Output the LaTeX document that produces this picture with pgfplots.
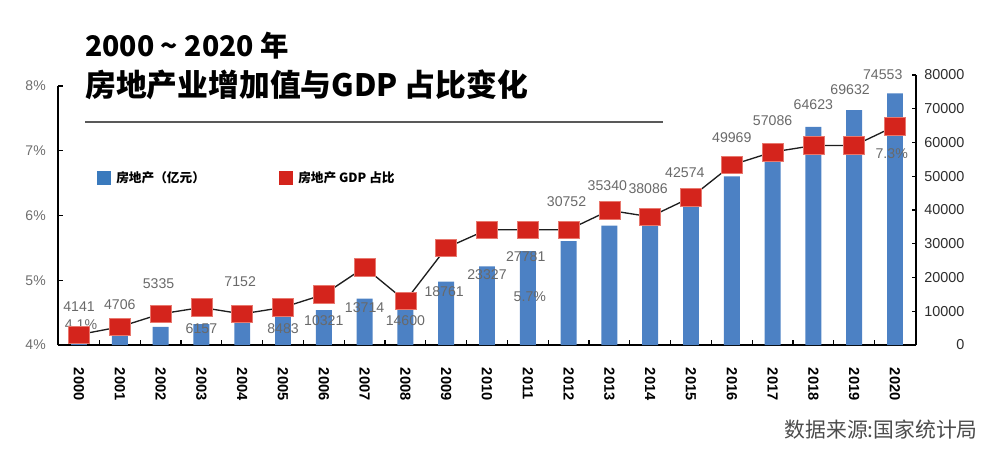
\documentclass[border=0pt]{standalone}
\usepackage{fontspec}
\usepackage{pgfplots}
\pgfplotsset{compat=1.18}
\setmainfont{Liberation Sans}
\newfontfamily\cjk{Noto Sans CJK SC}
\definecolor{barblue}{RGB}{76,129,196}
\definecolor{legblue}{RGB}{58,122,189}
\definecolor{mred}{RGB}{212,36,28}
\definecolor{medge}{RGB}{232,120,110}
\definecolor{labgray}{RGB}{105,105,105}
\definecolor{tickgray}{RGB}{110,110,110}
\definecolor{tickdark}{RGB}{45,45,45}
\definecolor{linedark}{RGB}{30,30,30}
\begin{document}
\begin{tikzpicture}[x=0.75pt,y=-0.75pt]
\useasboundingbox (0,0) rectangle (1000,471);
% ---------------- bars (right axis) ----------------
\begin{axis}[
  at={(43.5pt,-258.75pt)}, anchor=south west,
  scale only axis, width=643.5pt, height=202.5pt,
  xmin=-0.515, xmax=20.515, ymin=0, ymax=80000,
  axis y line*=right, axis x line*=bottom,
  axis line style={-, line width=1pt, black},
  xtick={0,...,20},
  xticklabels={2000,2001,2002,2003,2004,2005,2006,2007,2008,2009,2010,2011,2012,2013,2014,2015,2016,2017,2018,2019,2020},
  minor xtick={-0.5,0.5,...,20.5},
  major x tick style={draw=none},
  tick align=inside,
  major tick length=3.2pt, minor tick length=3.75pt,
  tick style={black, line width=0.8pt},
  xticklabel style={rotate=-90, anchor=west, inner sep=0pt, font=\bfseries\fontsize{11pt}{12pt}\selectfont, text=black},
  xticklabel shift=17pt,
  ytick={0,10000,...,80000},
  scaled y ticks=false,
  yticklabel style={/pgf/number format/1000 sep={}, /pgf/number format/assume math mode=true,
     anchor=east, inner sep=0pt, xshift=36.5pt, font=\fontsize{10.8pt}{12pt}\selectfont, text=tickdark},
  clip=false,
]
\addplot[ybar, bar width=0.39, fill=barblue, draw=none] coordinates {
(0,4141) (1,4706) (2,5335) (3,6157) (4,7152) (5,8483) (6,10321) (7,13714) (8,14600) (9,18761)
(10,23327) (11,27781) (12,30752) (13,35340) (14,38086) (15,42574) (16,49969) (17,57086) (18,64623) (19,69632) (20,74553)};
\end{axis}
% ---------------- share line (left axis) ----------------
\begin{axis}[
  at={(43.5pt,-258.75pt)}, anchor=south west,
  scale only axis, width=643.5pt, height=194.25pt,
  xmin=-0.515, xmax=20.515, ymin=4, ymax=8,
  axis y line*=left, axis x line=none,
  axis line style={-, line width=1pt, black},
  xtick=\empty,
  ytick={4,5,6,7,8},
  yticklabel={\pgfmathprintnumber{\tick}\%},
  tick align=inside, major tick length=3.75pt,
  tick style={black, line width=0.8pt},
  yticklabel style={/pgf/number format/assume math mode=true, anchor=east, inner sep=0pt, xshift=-9pt,
     font=\fontsize{10.5pt}{12pt}\selectfont, text=tickgray},
  clip=false,
]
\addplot[line width=1pt, color=linedark, mark=square*, mark size=6.6pt,
  mark options={fill=mred, draw=medge, line width=0.5pt, xscale=1.2, solid}] coordinates {
(0,4.16) (1,4.28) (2,4.48) (3,4.58) (4,4.48) (5,4.58) (6,4.78) (7,5.2) (8,4.68) (9,5.5)
(10,5.78) (11,5.78) (12,5.78) (13,6.08) (14,5.98) (15,6.28) (16,6.78) (17,6.98) (18,7.08) (19,7.08) (20,7.38)};
% data labels
\begin{scope}[every node/.style={font=\fontsize{10.6pt}{12pt}\selectfont, text=labgray, inner sep=0pt}]
\node at (axis cs:0,4.59) {4141};
\node at (axis cs:0.05,4.31) {4.1\%};
\node at (axis cs:1,4.63) {4706};
\node at (axis cs:1.95,4.95) {5335};
\node at (axis cs:3,4.25) {6157};
\node at (axis cs:3.95,4.98) {7152};
\node at (axis cs:5,4.26) {8483};
\node at (axis cs:6,4.37) {10321};
\node at (axis cs:7,4.57) {13714};
\node at (axis cs:8,4.37) {14600};
\node at (axis cs:8.95,4.82) {18761};
\node at (axis cs:10,5.08) {23327};
\node at (axis cs:10.95,5.36) {27781};
\node at (axis cs:11.05,4.74) {5.7\%};
\node at (axis cs:11.95,6.21) {30752};
\node at (axis cs:12.95,6.46) {35340};
\node at (axis cs:13.95,6.42) {38086};
\node at (axis cs:14.85,6.66) {42574};
\node at (axis cs:16,7.21) {49969};
\node at (axis cs:17,7.46) {57086};
\node at (axis cs:18,7.72) {64623};
\node at (axis cs:18.9,7.94) {69632};
\node at (axis cs:19.7,8.17) {74553};
\node at (axis cs:19.92,6.95) {7.3\%};
\end{scope}
\end{axis}
% ---------------- titles ----------------
\node[anchor=west, inner sep=0pt] at (85,46) {\cjk\bfseries\fontsize{21.3pt}{24pt}\selectfont 2000 \textasciitilde{} 2020 年};
\node[anchor=west, inner sep=0pt] at (85,85) {\cjk\bfseries\fontsize{23.1pt}{26pt}\selectfont 房地产业增加值与GDP 占比变化};
\draw[line width=1pt, color=black!65] (85,122) -- (663,122);
% ---------------- legend ----------------
\fill[legblue] (97,171) rectangle (111,185);
\node[anchor=west, inner sep=0pt] at (116,178) {\cjk\bfseries\fontsize{9.5pt}{10pt}\selectfont 房地产（亿元）};
\fill[mred] (279,171) rectangle (293,185);
\node[anchor=west, inner sep=0pt] at (298,178) {\cjk\bfseries\fontsize{9.5pt}{10pt}\selectfont 房地产 GDP 占比};
% ---------------- source ----------------
\node[anchor=east, inner sep=0pt] at (978,430) {\cjk\fontsize{15.6pt}{16pt}\selectfont\color{black!70} 数据来源:国家统计局};
\end{tikzpicture}
\end{document}
